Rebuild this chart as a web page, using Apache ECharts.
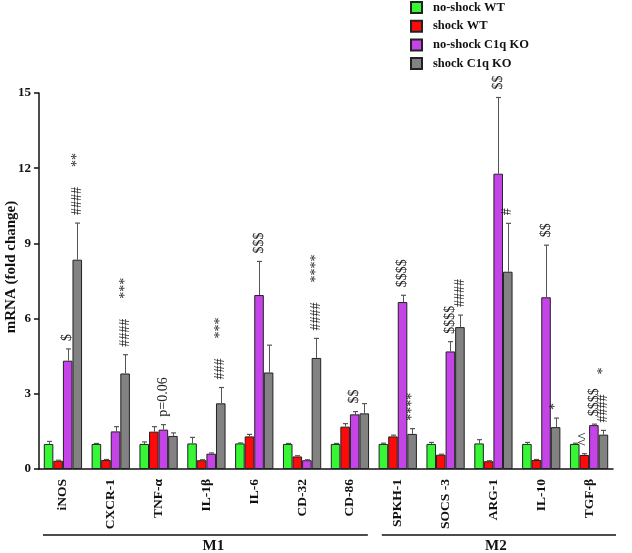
<!DOCTYPE html>
<html><head><meta charset="utf-8">
<script src="https://cdn.jsdelivr.net/npm/echarts@6/dist/echarts.min.js"></script>
<style>html,body{margin:0;padding:0;background:#fff}#c{width:632px;height:553px}</style>
</head><body><div id="c"></div>
<script>
const categories = ['iNOS','CXCR-1','TNF-α','IL-1β','IL-6','CD-32','CD-86','SPKH-1','SOCS -3','ARG-1','IL-10','TGF-β'];
const seriesNames = ['no-shock WT','shock WT','no-shock C1q KO','shock C1q KO'];
const noShockWT    = [1.00, 1.00, 1.00, 1.02, 1.02, 1.00, 1.00, 1.00, 1.00, 1.02, 1.00, 1.00];
const noShockWTErr = [0.10, 0.02, 0.08, 0.24, 0.02, 0.02, 0.02, 0.03, 0.06, 0.15, 0.06, 0.03];
const shockWT      = [0.33, 0.36, 1.49, 0.35, 1.30, 0.50, 1.69, 1.30, 0.57, 0.31, 0.36, 0.56];
const shockWTErr   = [0.02, 0.02, 0.20, 0.02, 0.08, 0.03, 0.12, 0.05, 0.02, 0.02, 0.02, 0.05];
const noShockKO    = [4.32, 1.50, 1.57, 0.61, 6.94, 0.35, 2.18, 6.66, 4.69, 11.78, 6.85, 1.75];
const noShockKOErr = [0.47, 0.19, 0.20, 0.03, 1.34, 0.02, 0.11, 0.27, 0.39, 3.04, 2.08, 0.04];
const shockKO      = [8.35, 3.81, 1.32, 2.62, 3.85, 4.43, 2.22, 1.40, 5.66, 7.87, 1.67, 1.37];
const shockKOErr   = [1.46, 0.75, 0.12, 0.63, 1.09, 0.78, 0.39, 0.21, 0.48, 1.93, 0.36, 0.17];
const yMin = 0, yMax = 15, yInterval = 3;
const groups = [{name:'M1', from:0, to:6}, {name:'M2', from:7, to:11}];
// [category index, series index, texts from bottom to top]
const annotations = [
  [0, 2, ['$']], [0, 3, ['####', '**']],
  [1, 3, ['####', '***']],
  [2, 2, ['p=0.06']],
  [3, 3, ['###', '***']],
  [4, 2, ['$$$']],
  [5, 3, ['####', '****']],
  [6, 2, ['$$']],
  [7, 2, ['$$$$']], [7, 3, ['****']],
  [8, 2, ['$$$$']], [8, 3, ['####']],
  [9, 2, ['$$']], [9, 3, ['#']],
  [10, 2, ['$$']], [10, 3, ['*']],
  [11, 1, ['^^']], [11, 2, ['$$$$']], [11, 3, ['####', '*']]
];

const FONT = "'Liberation Serif','Times New Roman',serif";
const colors = ['#36F636', '#FF0A0A', '#C544E8', '#828282'];
const values = [noShockWT, shockWT, noShockKO, shockKO];
const errs = [noShockWTErr, shockWTErr, noShockKOErr, shockKOErr];

const errData = [];
values.forEach((arr, s) => arr.forEach((v, i) => errData.push([i, v, v + errs[s][i], s])));
const annData = annotations.map(a => [a[0], values[a[1]][a[0]] + errs[a[1]][a[0]]]);

const ctx = document.createElement('canvas').getContext('2d');
const ANN_FONT = '14px ' + FONT;
ctx.font = ANN_FONT;

function barOffset(api, s) {
  const band = api.size([1, 0])[0];
  const bw = band * 0.8 / 4;
  return (s - 1.5) * bw;
}

const chart = echarts.init(document.getElementById('c'), null, {renderer: 'canvas'});
const series = values.map((arr, s) => ({
  name: seriesNames[s], type: 'bar', data: arr,
  barGap: '0%', barCategoryGap: '20%',
  itemStyle: {color: colors[s], borderColor: '#222', borderWidth: 1},
  z: 2
}));
series.push({
  type: 'custom', data: errData, z: 3, silent: true,
  renderItem(params, api) {
    const i = api.value(0), lo = api.value(1), hi = api.value(2), s = api.value(3);
    const p0 = api.coord([i, lo]), p1 = api.coord([i, hi]);
    const x = Math.round(p0[0] + barOffset(api, s)) + 0.5;
    return {type: 'group', children: [
      {type: 'line', shape: {x1: x, y1: p0[1], x2: x, y2: p1[1]}, style: {stroke: '#555', lineWidth: 1}},
      {type: 'line', shape: {x1: x - 2.5, y1: p1[1], x2: x + 2.5, y2: p1[1]}, style: {stroke: '#555', lineWidth: 1.2}}
    ]};
  }
});
series.push({
  type: 'custom', data: annData, z: 4, silent: true,
  renderItem(params, api) {
    const a = annotations[params.dataIndex];
    const i = a[0], s = a[1];
    const p = api.coord([i, api.value(1)]);
    const x = p[0] + barOffset(api, s);
    let y = p[1] - 8;
    const children = [];
    a[2].forEach(t => {
      children.push({type: 'text', x: x, y: y, rotation: Math.PI / 2,
        style: {text: t, font: ANN_FONT, fill: '#222', align: 'left', verticalAlign: 'middle'}});
      y -= ctx.measureText(t).width + 20;
    });
    return {type: 'group', children};
  }
});

chart.setOption({
  animation: false,
  backgroundColor: '#fff',
  grid: {left: 39, right: 19, top: 93, bottom: 84, containLabel: false, outerBoundsMode: 'none'},
  legend: {
    orient: 'vertical', left: 410, top: 1, padding: 0,
    itemWidth: 11, itemHeight: 11, itemGap: 5.7, icon: 'rect',
    data: seriesNames,
    textStyle: {fontFamily: FONT, fontWeight: 'bold', fontSize: 12.5, color: '#111', lineHeight: 11, padding: [0, 0, 0, 6]}
  },
  xAxis: {
    type: 'category', data: categories,
    axisLine: {lineStyle: {color: '#111', width: 1.5}},
    axisTick: {show: false},
    axisLabel: {rotate: 90, interval: 0, fontFamily: FONT, fontWeight: 'bold', fontSize: 13.5, color: '#111', margin: 10}
  },
  yAxis: {
    type: 'value', min: yMin, max: yMax, interval: yInterval,
    name: 'mRNA (fold change)', nameLocation: 'middle', nameGap: 20, nameRotate: 90,
    nameMoveOverlap: false,
    nameTextStyle: {fontFamily: FONT, fontWeight: 'bold', fontSize: 15, color: '#111', padding: [0, 0, 0, 28]},
    axisLine: {show: true, lineStyle: {color: '#111', width: 1.5}},
    axisTick: {show: true, length: 5, lineStyle: {color: '#111', width: 1.5}},
    axisLabel: {fontFamily: FONT, fontWeight: 'bold', fontSize: 13, color: '#111', margin: 8},
    splitLine: {show: false}
  },
  series
});

const c0 = chart.convertToPixel({xAxisIndex: 0}, 0);
const c1 = chart.convertToPixel({xAxisIndex: 0}, 1);
const band = c1 - c0;
const y0 = chart.convertToPixel({yAxisIndex: 0}, 0);
const graphics = [];
groups.forEach((g, k) => {
  const xs = chart.convertToPixel({xAxisIndex: 0}, g.from) - band / 2 + (k === 0 ? 4 : 8);
  const xe = chart.convertToPixel({xAxisIndex: 0}, g.to) + band / 2 + (k === 0 ? -6 : 3);
  graphics.push({type: 'line', shape: {x1: xs, y1: y0 + 66, x2: xe, y2: y0 + 66}, style: {stroke: '#111', lineWidth: 1.5}});
  graphics.push({type: 'text', x: (xs + xe) / 2 + (k === 0 ? 8 : -3), y: y0 + 77,
    style: {text: g.name, font: 'bold 15px ' + FONT, fill: '#111', align: 'center', verticalAlign: 'middle'}});
});
chart.setOption({graphic: graphics});
</script>
</body></html>
